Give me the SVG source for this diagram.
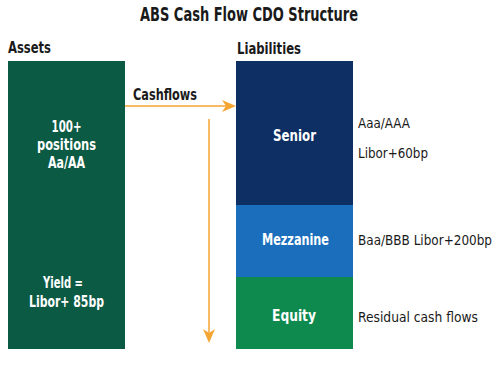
<svg xmlns="http://www.w3.org/2000/svg" width="500" height="365" viewBox="0 0 500 365">
<style>
text{font-family:"DejaVu Sans Condensed","Liberation Sans",sans-serif;}
.h{font-weight:bold;fill:#1a1a1a;font-size:15px;}
.w{font-weight:bold;fill:#ffffff;font-size:15px;text-anchor:middle;}
.r{fill:#1a1a1a;font-size:14px;}
.ln{stroke:#f4a532;stroke-width:1.5;fill:none;}
.ah{fill:#f4a532;}
</style>
<rect width="500" height="365" fill="#ffffff"/>
<text class="h" x="249" y="21" text-anchor="middle" style="font-size:19px" textLength="218" lengthAdjust="spacingAndGlyphs">ABS Cash Flow CDO Structure</text>
<text class="h" x="8" y="53" textLength="43" lengthAdjust="spacingAndGlyphs">Assets</text>
<text class="h" x="237" y="54" textLength="64" lengthAdjust="spacingAndGlyphs">Liabilities</text>
<g id="assets">
<rect x="8" y="61" width="117" height="288" fill="#0b5a44"/>
<text class="w" x="66.5" y="132" textLength="30" lengthAdjust="spacingAndGlyphs">100+</text>
<text class="w" x="66.5" y="150" textLength="59" lengthAdjust="spacingAndGlyphs">positions</text>
<text class="w" x="66.5" y="168" textLength="37" lengthAdjust="spacingAndGlyphs">Aa/AA</text>
<text class="w" x="63" y="288" textLength="40" lengthAdjust="spacingAndGlyphs">Yield =</text>
<text class="w" x="66.5" y="307" textLength="75" lengthAdjust="spacingAndGlyphs">Libor+ 85bp</text>
</g>
<g id="senior">
<rect x="236" y="61" width="117" height="144" fill="#0d2f63"/>
<text class="w" x="294.5" y="141" textLength="43" lengthAdjust="spacingAndGlyphs">Senior</text>
<text class="r" x="358" y="128" textLength="52" lengthAdjust="spacingAndGlyphs">Aaa/AAA</text>
<text class="r" x="358" y="158" textLength="70" lengthAdjust="spacingAndGlyphs">Libor+60bp</text>
</g>
<g id="mezzanine">
<rect x="236" y="205" width="117" height="72" fill="#1a6ebc"/>
<text class="w" x="295.5" y="245" textLength="67" lengthAdjust="spacingAndGlyphs">Mezzanine</text>
<text class="r" x="358" y="245" textLength="134" lengthAdjust="spacingAndGlyphs">Baa/BBB Libor+200bp</text>
</g>
<g id="equity">
<rect x="236" y="277" width="117" height="72" fill="#0f8a4f"/>
<text class="w" x="294" y="321" textLength="44" lengthAdjust="spacingAndGlyphs">Equity</text>
<text class="r" x="358" y="322" textLength="120" lengthAdjust="spacingAndGlyphs">Residual cash flows</text>
</g>
<g id="connectors">
<text class="h" x="133" y="100" textLength="64" lengthAdjust="spacingAndGlyphs">Cashflows</text>
<line class="ln" x1="125" y1="106" x2="229" y2="106"/>
<polygon class="ah" points="236,106 222,100 226,106 222,112"/>
<line class="ln" x1="209" y1="119" x2="209" y2="336"/>
<polygon class="ah" points="209,343 203,329 209,333 215,329"/>
</g>
</svg>
